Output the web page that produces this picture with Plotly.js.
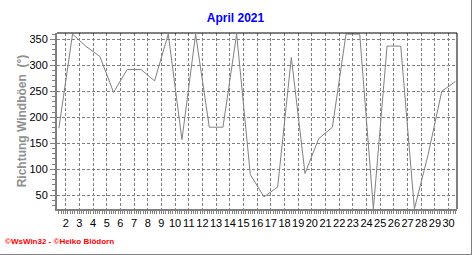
<!DOCTYPE html>
<html>
<head>
<meta charset="utf-8">
<script src="https://cdn.plot.ly/plotly-3.0.1.min.js"></script>
<style>
html,body{margin:0;padding:0;background:#fff;}
#chart{width:471px;height:254px;border-right:1px solid #808080;border-bottom:1px solid #808080;}
</style>
</head>
<body>
<div id="chart"></div>
<script>
// Days of April 2021 (values are daily, plotted at noon of each day)
const days = [1,2,3,4,5,6,7,8,9,10,11,12,13,14,15,16,17,18,19,20,21,22,23,24,25,26,27,28,29,30];
// Direction of gusts (degrees)
const direction = [179,360,336,317,248,292,292,270,360,157,360,181,181,360,90,47,66,315,92,159,181,360,360,24,337,337,24,128,250,269];
const xTicks = [2,3,4,5,6,7,8,9,10,11,12,13,14,15,16,17,18,19,20,21,22,23,24,25,26,27,28,29,30];
const yTicks = [50,100,150,200,250,300,350];

const trace = {
  x: days.map(d => d + 0.5),
  y: direction,
  type: 'scatter',
  mode: 'lines',
  line: {color: '#808080', width: 1},
  hoverinfo: 'skip'
};

const layout = {
  width: 471, height: 254,
  margin: {l: 57, r: 14, t: 33, b: 45},
  paper_bgcolor: '#fff', plot_bgcolor: '#fff',
  showlegend: false,
  font: {family: 'Liberation Sans, Arial, sans-serif', size: 11, color: '#000'},
  title: {
    text: '<b>April 2021</b>',
    font: {family: 'Liberation Sans, Arial, sans-serif', size: 12, color: '#0000ff'},
    x: 0.5, xref: 'container', y: 0.93, yref: 'container', yanchor: 'middle'
  },
  xaxis: {
    range: [1.363, 30.615],
    tickmode: 'array', tickvals: xTicks, ticktext: xTicks.map(String),
    tickangle: 0, ticklabelstandoff: 3,
    showgrid: true, gridcolor: '#808080', gridwidth: 1, griddash: '3px,2px',
    showline: true, linecolor: '#808080', linewidth: 2,
    ticks: '', zeroline: false,
    tickfont: {size: 11, color: '#000'},
    minor: {dtick: 1/6, tick0: 2, ticks: 'outside', ticklen: 3, tickcolor: '#808080', showgrid: false},
    fixedrange: true
  },
  yaxis: {
    range: [23.7, 362.1],
    tickmode: 'array', tickvals: yTicks, ticktext: yTicks.map(String),
    showgrid: true, gridcolor: '#808080', gridwidth: 1, griddash: '3px,2px',
    showline: true, linecolor: '#808080', linewidth: 2,
    ticks: 'outside', ticklen: 5, tickcolor: '#808080',
    zeroline: false,
    tickfont: {size: 11, color: '#000'},
    minor: {dtick: 10, tick0: 0, ticks: 'outside', ticklen: 3, tickcolor: '#808080', showgrid: false},
    title: {text: '<b>Richtung Windböen  (°)</b>', font: {size: 12, color: '#909090'}, standoff: 0},
    fixedrange: true
  },
  shapes: [
    {type: 'line', xref: 'paper', yref: 'paper', x0: 0, x1: 1, y0: 1, y1: 1, line: {color: '#000', width: 1}},
    {type: 'line', xref: 'paper', yref: 'paper', x0: 1, x1: 1, y0: 0, y1: 1, line: {color: '#000', width: 1}}
  ],
  annotations: [
    {text: '<b>©WsWin32 - ©Heiko Blödorn</b>', xref: 'paper', yref: 'paper',
     x: -57/400, xshift: 3, y: 0, yshift: -32, xanchor: 'left', yanchor: 'middle',
     showarrow: false, font: {size: 8, color: '#ff0000'}}
  ]
};

Plotly.newPlot('chart', [trace], layout, {displayModeBar: false, staticPlot: true});
</script>
</body>
</html>
